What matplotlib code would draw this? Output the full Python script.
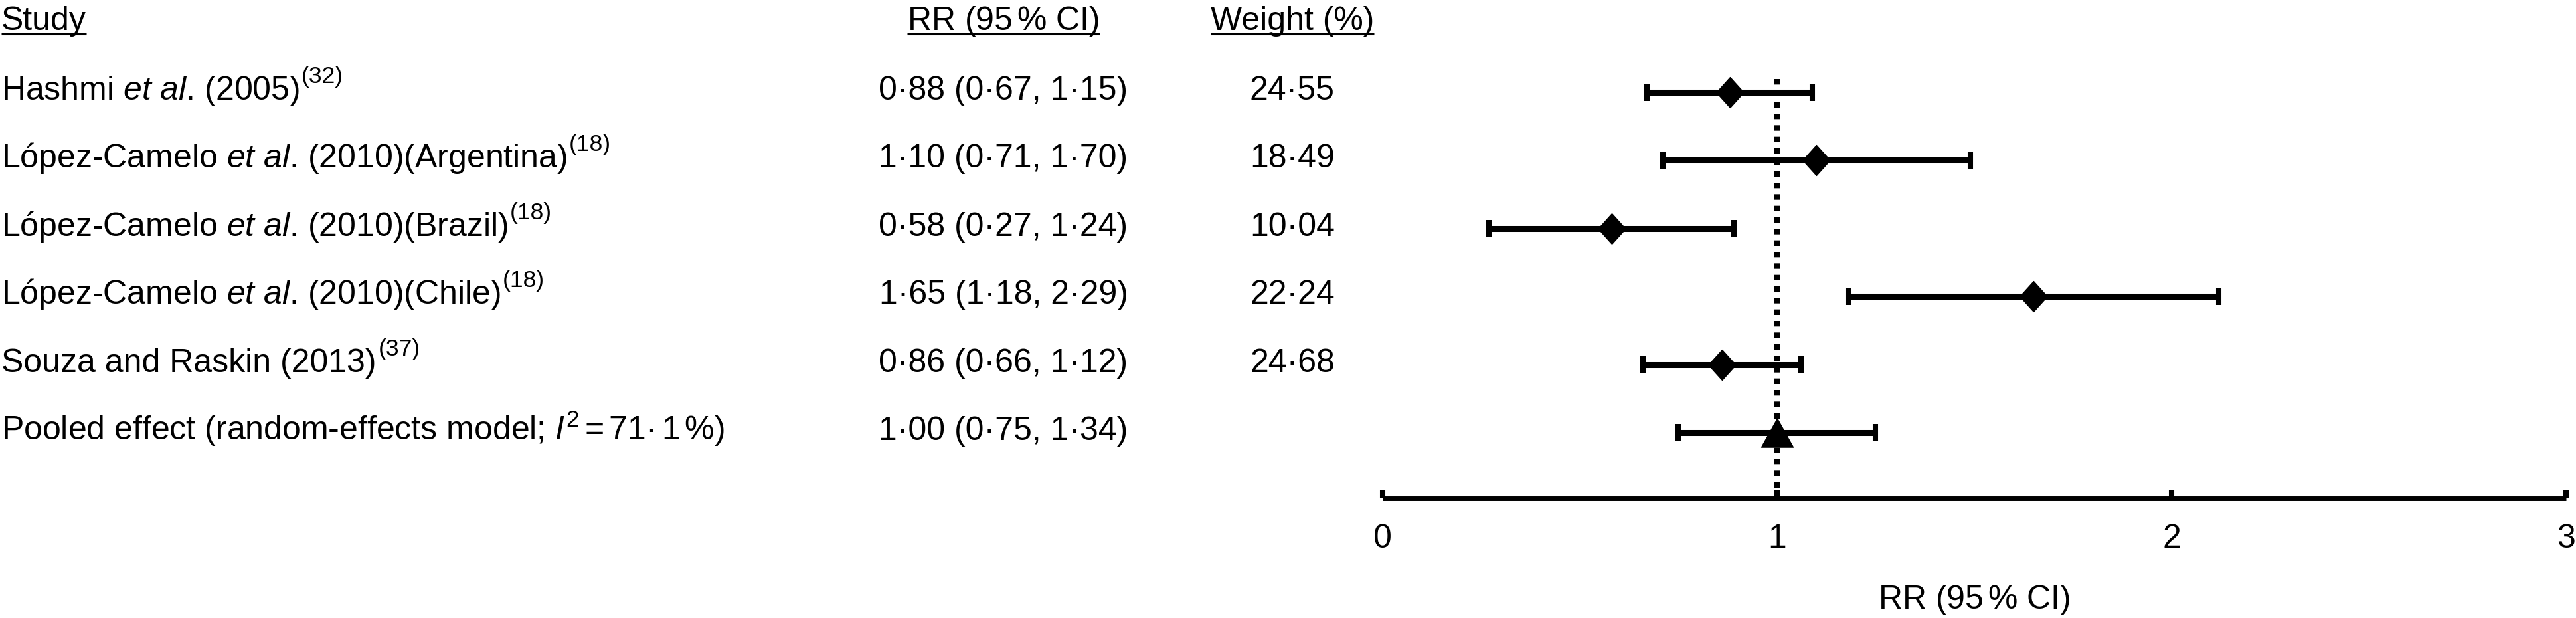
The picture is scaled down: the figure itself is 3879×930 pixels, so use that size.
import matplotlib
matplotlib.use("Agg")
import matplotlib.pyplot as plt
from matplotlib.path import Path
from matplotlib.lines import Line2D
import matplotlib.transforms as mtransforms
import numpy as np

# ---------------- data ----------------
studies = [
    r"Hashmi $\mathit{et\ al}$. (2005)",
    r"López-Camelo $\mathit{et\ al}$. (2010)(Argentina)",
    r"López-Camelo $\mathit{et\ al}$. (2010)(Brazil)",
    r"López-Camelo $\mathit{et\ al}$. (2010)(Chile)",
    r"Souza and Raskin (2013)",
    r"Pooled effect (random-effects model; $\mathit{I}^{2}\,$=$\,$71·$\,$1$\,$%)",
]
study_refs = ["(32)", "(18)", "(18)", "(18)", "(37)", ""]
rr = [0.88, 1.10, 0.58, 1.65, 0.86, 1.00]
ci_low = [0.67, 0.71, 0.27, 1.18, 0.66, 0.75]
ci_high = [1.15, 1.70, 1.24, 2.29, 1.12, 1.34]
weights = [24.55, 18.49, 10.04, 22.24, 24.68]
headers = ["Study", r"RR (95$\,$% CI)", "Weight (%)"]
x_ticks = [0, 1, 2, 3]
x_ticklabels = ["0", "1", "2", "3"]
x_label = r"RR (95$\,$% CI)"
null_value = 1.0

# ---------------- style ----------------
plt.rcParams["font.family"] = "Liberation Sans"
plt.rcParams["mathtext.fontset"] = "custom"
plt.rcParams["mathtext.rm"] = "Liberation Sans"
plt.rcParams["mathtext.it"] = "Liberation Sans:italic"
plt.rcParams["mathtext.bf"] = "Liberation Sans:bold"
FS = 36
FS_SUP = 25.5

W, H, DPI = 3880, 930, 100
fig = plt.figure(figsize=(W / DPI, H / DPI), dpi=DPI)

row_px0 = 139.0      # pixel y (from top) of first row
row_step = 102.4     # pixels per row
axis_px = 750.0      # pixel y of x-axis line
x0_px, x3_px = 2082.0, 3864.0

ax = fig.add_axes([x0_px / W, 1 - axis_px / H, (x3_px - x0_px) / W, axis_px / H])
y_bottom = (axis_px - row_px0) / row_step
y_top = -row_px0 / row_step
ax.set_ylim(y_bottom, y_top)
ax.set_xlim(x_ticks[0], x_ticks[-1])

n = len(rr)
ypos = np.arange(n)
rr_a = np.array(rr)
lo_a = np.array(ci_low)

# reference line
ax.vlines(null_value, -0.2, y_bottom, colors="black", linewidth=6.0,
          linestyles=[(0, (1.0, 1.08))], zorder=1)

# error bars (drawn symmetric as in the original figure)
ax.errorbar(rr_a, ypos, xerr=rr_a - lo_a, fmt="none", ecolor="black",
            elinewidth=6.5, capsize=9.4, capthick=5.8, zorder=2)

diamond = Path([(0, 1), (0.9, 0), (0, -1), (-0.9, 0), (0, 1)],
               [Path.MOVETO, Path.LINETO, Path.LINETO, Path.LINETO, Path.CLOSEPOLY])
triangle = Path([(-1, -0.9), (1, -0.9), (0, 0.9), (-1, -0.9)],
                [Path.MOVETO, Path.LINETO, Path.LINETO, Path.CLOSEPOLY])
ax.plot(rr_a[:-1], ypos[:-1], linestyle="none", marker=diamond, markersize=33,
        color="black", zorder=3)
ax.plot(rr_a[-1:], ypos[-1:], linestyle="none", marker=triangle, markersize=34.5,
        color="black", zorder=3)

# axis styling
for s in ["top", "left", "right"]:
    ax.spines[s].set_visible(False)
ax.spines["bottom"].set_linewidth(5)
ax.spines["bottom"].set_capstyle("butt")
ax.set_yticks([])
ax.set_xticks(x_ticks)
ax.set_xticklabels(x_ticklabels, fontsize=FS)
ax.tick_params(axis="x", direction="in", length=9.5, width=5.8, pad=27)
ax.set_xlabel(x_label, fontsize=FS, labelpad=32)
ax.patch.set_alpha(0)

# table text
trans = mtransforms.blended_transform_factory(fig.transFigure, ax.transData)
base_off = 11.0 / row_step
col_x = [2 / W, 1511 / W, 1946 / W]
col_ha = ["left", "center", "center"]

def fmt(v):
    return f"{v:.2f}".replace(".", "·")

study_texts = []
for i in range(n):
    y = ypos[i] + base_off
    t = fig.text(col_x[0], y, studies[i], transform=trans, ha="left", va="baseline", fontsize=FS)
    study_texts.append(t)
    fig.text(col_x[1], y, f"{fmt(rr[i])} ({fmt(ci_low[i])}, {fmt(ci_high[i])})",
             transform=trans, ha="center", va="baseline", fontsize=FS)
    if i < len(weights):
        fig.text(col_x[2], y, fmt(weights[i]), transform=trans, ha="center",
                 va="baseline", fontsize=FS)

hdr_y = (45.0 - row_px0) / row_step
hdr_texts = []
for j, h in enumerate(headers):
    t = fig.text(col_x[j], hdr_y, h, transform=trans, ha=col_ha[j], va="baseline", fontsize=FS)
    hdr_texts.append(t)

fig.canvas.draw()
renderer = fig.canvas.get_renderer()

# superscript reference numbers
for i, t in enumerate(study_texts):
    if not study_refs[i]:
        continue
    bb = t.get_window_extent(renderer)
    base_disp = ax.transData.transform((0, ypos[i] + base_off))[1]
    fig.text((bb.x1 + 3) / W, (base_disp + 25) / H, study_refs[i],
             ha="left", va="baseline", fontsize=FS_SUP)

# underline headers
for t in hdr_texts:
    bb = t.get_window_extent(renderer)
    base_disp = ax.transData.transform((0, hdr_y))[1]
    yl = (base_disp - 6) / H
    fig.add_artist(Line2D([bb.x0 / W, bb.x1 / W], [yl, yl], transform=fig.transFigure,
                          color="black", linewidth=2.2, solid_capstyle="butt"))

fig.savefig("out.png", dpi=DPI, facecolor="white")
